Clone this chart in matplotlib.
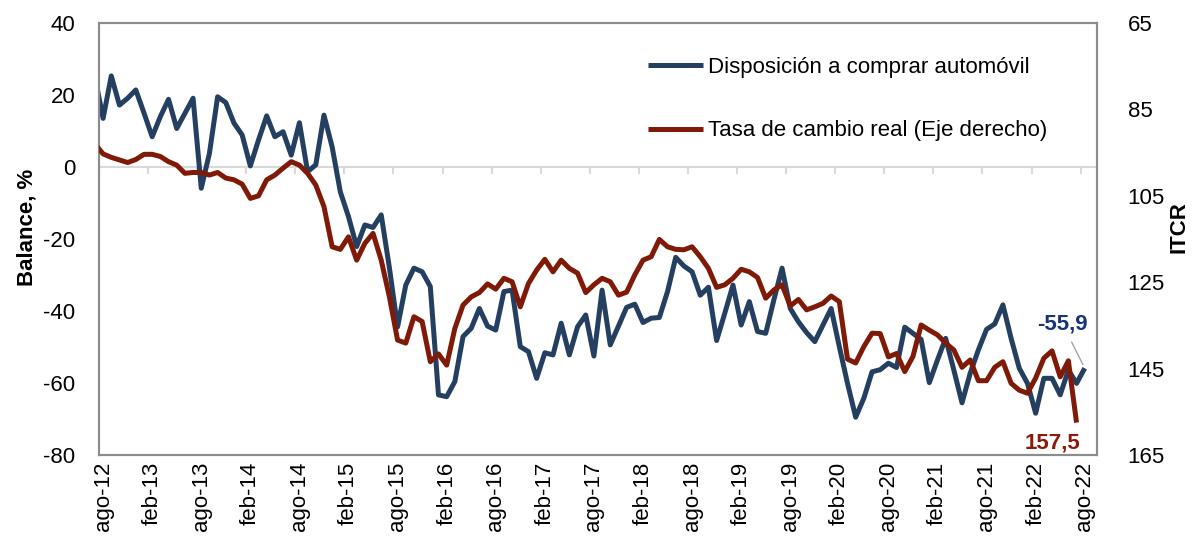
import matplotlib
matplotlib.use("Agg")
import matplotlib.pyplot as plt
import numpy as np

plt.rcParams['font.family'] = ['Liberation Sans', 'DejaVu Sans']
plt.rcParams['axes.unicode_minus'] = False

# Monthly data, jul-12 .. ago-22 (blue) and jul-12 .. jul-22 (red)
disposicion = [
    25.0, 13.5, 25.3, 17.2, 19.1, 21.4, 15.0, 8.4, 14.0, 18.8, 10.7, 14.9, 19.1,
    -5.9, 3.8, 19.5, 17.9, 12.2, 8.9, 0.3, 7.5, 14.2, 8.4, 9.8, 3.3,
    12.3, -1.3, 0.6, 14.4, 5.6, -6.9, -13.8, -22.1, -16.1, -16.8, -13.3, -28.0,
    -44.4, -32.8, -28.1, -29.1, -33.2, -63.3, -63.8, -59.6, -47.1, -44.8, -39.3, -44.2,
    -45.3, -34.6, -34.2, -49.9, -51.3, -58.7, -51.6, -52.2, -43.4, -52.2, -44.4, -41.1,
    -52.5, -34.2, -49.4, -44.2, -39.0, -38.1, -43.2, -42.0, -41.8, -34.6, -25.1, -27.5,
    -29.1, -35.6, -33.4, -48.2, -40.6, -32.8, -43.9, -37.4, -45.7, -46.2, -36.9, -28.1,
    -39.3, -43.0, -46.0, -48.5, -43.9, -39.3, -49.9, -60.1, -69.5, -64.2, -56.9, -56.3,
    -54.5, -55.7, -44.5, -46.2, -47.9, -59.9, -53.6, -47.6, -56.4, -65.5, -57.3, -50.8,
    -45.1, -43.6, -38.3, -47.6, -55.9, -60.1, -68.4, -58.7, -58.7, -63.3, -56.4, -60.1,
    -55.9,
]
itcr = [
    93.0, 95.3, 96.1, 96.7, 97.3, 96.6, 95.4, 95.4, 95.9, 97.1, 97.9, 99.8, 99.6,
    99.6, 100.2, 99.6, 100.9, 101.3, 102.3, 105.6, 105.0, 101.3, 100.2, 98.6, 97.1,
    97.9, 99.8, 102.5, 107.5, 116.8, 117.4, 114.5, 119.9, 116.0, 113.7, 119.9, 128.4,
    138.4, 139.1, 133.0, 134.1, 143.4, 141.6, 144.2, 135.7, 130.3, 128.4, 127.4, 125.4,
    126.6, 124.1, 124.9, 130.7, 125.3, 122.2, 119.7, 122.6, 119.9, 121.8, 122.9, 127.4,
    125.6, 124.1, 124.9, 128.0, 127.3, 123.3, 119.9, 119.1, 115.1, 116.8, 117.4, 117.5,
    116.8, 119.1, 121.8, 126.2, 125.6, 124.1, 122.0, 122.6, 123.9, 128.7, 126.8, 125.6,
    130.5, 129.0, 131.4, 130.7, 129.9, 128.2, 129.5, 142.8, 143.7, 139.9, 136.8, 136.9,
    142.3, 141.5, 145.7, 142.2, 134.9, 136.1, 137.2, 139.1, 140.7, 144.7, 143.0, 147.8,
    147.8, 144.7, 143.4, 148.4, 150.0, 150.7, 147.2, 142.6, 140.9, 146.9, 143.2, 157.5,
]
tick_labels = ['ago-12', 'feb-13', 'ago-13', 'feb-14', 'ago-14', 'feb-15', 'ago-15',
               'feb-16', 'ago-16', 'feb-17', 'ago-17', 'feb-18', 'ago-18', 'feb-19',
               'ago-19', 'feb-20', 'ago-20', 'feb-21', 'ago-21', 'feb-22', 'ago-22']
label_blue = 'Disposición a comprar automóvil'
label_red = 'Tasa de cambio real (Eje derecho)'

BLUE = '#243F60'
RED = '#7F1A08'
GRID = '#D9D9D9'
SPINE = '#8C8C8C'
FS = 16

xb = np.arange(len(disposicion)) - 1   # jul-12 is -1, ago-12 is 0
xr = np.arange(len(itcr)) - 1

fig = plt.figure(figsize=(11.98, 5.46), dpi=100)
ax = fig.add_axes([99/1198, 1-455/546, 998/1198, 432/546])
ax2 = ax.twinx()

ax.set_xlim(-0.5, 121.5)
ax.set_ylim(-80, 40)
ax.set_yticks(np.arange(-80, 41, 20))
ax2.set_ylim(165, 65)
ax2.set_yticks(np.arange(65, 166, 20))

# zero line with category-boundary ticks
ax.axhline(0, color=GRID, lw=1.5, zorder=1)
bounds = np.arange(-0.5, 121, 6)
ax.vlines(bounds, -2.0, 0, color=GRID, lw=1.5, zorder=1)

lb, = ax.plot(xb, disposicion, color=BLUE, lw=3.6, zorder=3, solid_joinstyle='round',
              solid_capstyle='butt', label=label_blue)
lr, = ax2.plot(xr, itcr, color=RED, lw=3.6, zorder=3, solid_joinstyle='round',
               solid_capstyle='butt', label=label_red)

ax.set_xticks(np.arange(0, 121, 6))
ax.set_xticklabels(tick_labels, rotation=90, fontsize=FS)
ax.tick_params(axis='x', length=0, pad=5)
ax.tick_params(axis='y', length=0, pad=17, labelsize=FS)
ax2.tick_params(axis='y', length=0, pad=22, labelsize=FS)

for a in (ax, ax2):
    for s in a.spines.values():
        s.set_color(SPINE)
        s.set_linewidth(1.5)

ax.set_ylabel('Balance, %', fontsize=FS, fontweight='bold')
ax.yaxis.set_label_coords(-0.062, 0.528)
ax2.set_ylabel('ITCR', fontsize=FS, fontweight='bold')
ax2.yaxis.set_label_coords(1.072, 0.528)

leg = ax.legend(handles=[lb, lr], loc='upper left', bbox_to_anchor=(0.55, 0.921),
                frameon=False, fontsize=FS, handlelength=2.5, handletextpad=0.2,
                labelspacing=1.9, borderpad=0, borderaxespad=0)

# end-point annotations
ax.annotate(f"{disposicion[-1]:.1f}".replace('.', ','), xy=(xb[-1], disposicion[-1]),
            xytext=(-16, 32), textcoords='offset points', ha='center', va='center',
            fontsize=FS, fontweight='bold', color='#17337A',
            arrowprops=dict(arrowstyle='-', color='#A6A6A6', lw=1, shrinkA=4, shrinkB=3))
ax2.annotate(f"{itcr[-1]:.1f}".replace('.', ','), xy=(xr[-1], itcr[-1]),
             xytext=(-17, -14.5), textcoords='offset points', ha='center', va='center',
             fontsize=FS, fontweight='bold', color='#8B1A0A')

fig.savefig('out.png', dpi=100)
